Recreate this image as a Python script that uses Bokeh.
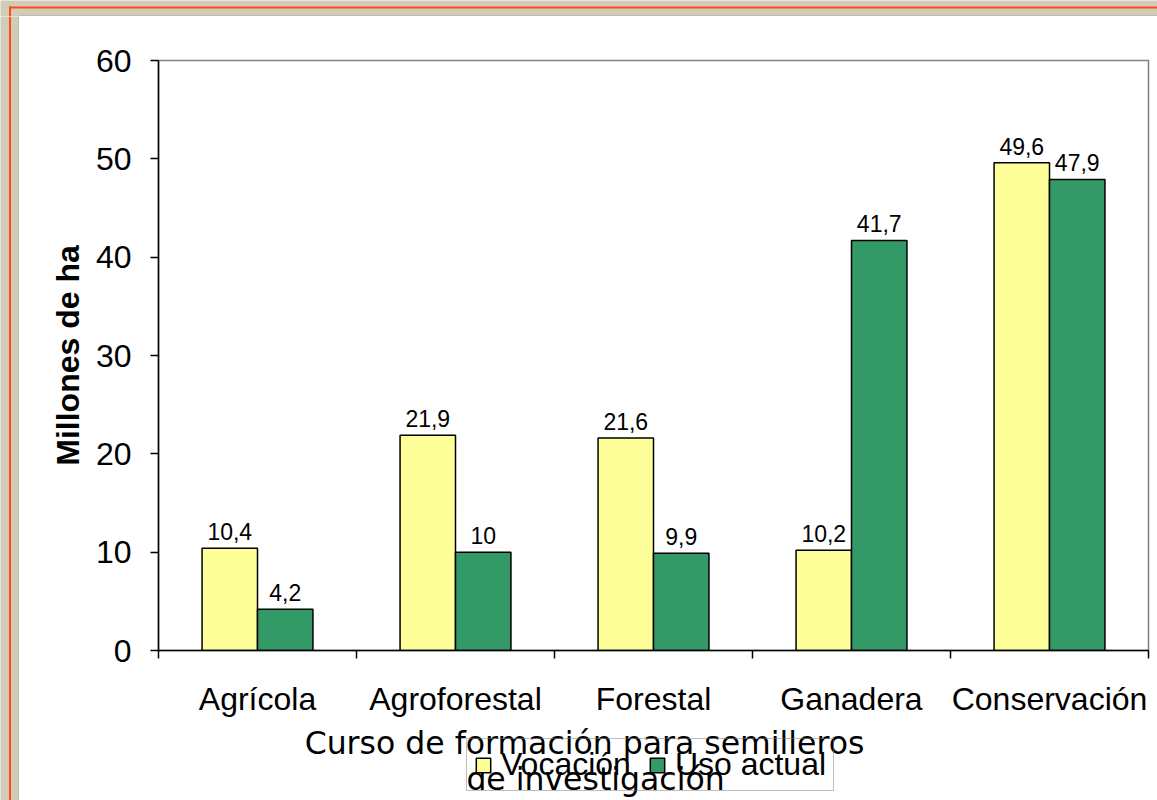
from bokeh.plotting import figure
from bokeh.layouts import column, row
from bokeh.models import (Range1d, LinearAxis, FixedTicker, Legend, LegendItem,
                          Label, ColumnDataSource)
from bokeh.transform import dodge
from bokeh.core.properties import value
from bokeh.embed import file_html
from bokeh.resources import INLINE

# Land use in Colombia (millions of hectares): suitability vs. current use
categories = ["Agrícola", "Agroforestal", "Forestal", "Ganadera", "Conservación"]
vocacion = [10.4, 21.9, 21.6, 10.2, 49.6]
uso_actual = [4.2, 10.0, 9.9, 41.7, 47.9]
series_names = ["Vocación", "Uso actual"]
y_ticks = [0, 10, 20, 30, 40, 50, 60]
y_title = "Millones de ha"
x_title_lines = ["Curso de formación para semilleros", "de investigación"]

YELLOW = "#FFFF99"
GREEN = "#339966"
TAN = "#D0CCB8"
EDGE = "#ABA791"
RED = "#FF4A1C"
ARIAL = "Liberation Sans"

W, H = 1157, 800
MARGIN_L, MARGIN_T = 19, 16
CHART_H, FOOT_H = 709, 75
BORDER_L, BORDER_R = 139, 9


def fmt(v):
    return f"{v:g}".replace(".", ",")


def blank(width, height, xr, yr, bg, **borders):
    f = figure(width=width, height=height, x_range=xr, y_range=yr,
               x_axis_location=None, y_axis_location=None,
               output_backend="svg", toolbar_location=None, min_border=0, **borders)
    f.background_fill_color = bg
    f.border_fill_color = bg
    f.outline_line_color = None
    f.grid.visible = False
    return f


# slide margin: tan strip with a red rule (pixel ranges, y growing downwards)
top_strip = blank(W, MARGIN_T, Range1d(0, W), Range1d(MARGIN_T, 0), TAN)
top_strip.quad(left=[8.5, 8.5, 18], right=[W, 10.5, W], top=[6, 6, 15],
               bottom=[8, MARGIN_T, MARGIN_T], fill_color=[RED, RED, EDGE], line_color=None)
left_strip = blank(MARGIN_L, H - MARGIN_T, Range1d(0, MARGIN_L), Range1d(H - MARGIN_T, 0), TAN)
left_strip.quad(left=[8.5, 18], right=[10.5, MARGIN_L], top=[0, 0],
                bottom=[H - MARGIN_T, H - MARGIN_T], fill_color=[RED, EDGE], line_color=None)

# ---- main bar chart ----
n = len(categories)
centers = [i + 0.5 for i in range(n)]      # one slot per category
bounds = list(range(n + 1))                # slot boundaries carry the tick marks

src = ColumnDataSource(dict(
    pos=centers,
    voc=vocacion,
    uso=uso_actual,
    voc_lbl=[fmt(v) for v in vocacion],
    uso_lbl=[fmt(v) for v in uso_actual],
))

p = figure(
    width=W - MARGIN_L, height=CHART_H,
    x_range=Range1d(0, n), y_range=Range1d(0, 60),
    x_axis_location=None,
    output_backend="svg", toolbar_location=None,
    min_border_left=BORDER_L, min_border_right=BORDER_R, min_border_top=44, min_border_bottom=75,
)
p.border_fill_color = "white"
p.background_fill_color = "white"
p.outline_line_color = "#808080"
p.outline_line_width = 1.5
p.grid.visible = False

bw = 0.28
bar_style = dict(width=bw, line_color="black", line_width=1.5)
p.vbar(x=dodge("pos", -0.14), top="voc", source=src, fill_color=YELLOW, **bar_style)
p.vbar(x=dodge("pos", 0.14), top="uso", source=src, fill_color=GREEN, **bar_style)

for xo, col in [(-0.14, "voc"), (0.14, "uso")]:
    p.text(x=dodge("pos", xo), y=col, text=col + "_lbl", source=src,
           text_align="center", text_baseline="bottom", y_offset=-8,
           text_font=value(ARIAL), text_font_size="23px", text_color="black")

yax = p.yaxis[0]
yax.ticker = FixedTicker(ticks=y_ticks, minor_ticks=[])
yax.axis_line_color = "black"
yax.axis_line_width = 1.5
yax.major_tick_in = 0
yax.major_tick_out = 8
yax.major_tick_line_color = "black"
yax.major_tick_line_width = 1.5
yax.minor_tick_line_color = None
yax.major_label_text_font = ARIAL
yax.major_label_text_font_size = "32px"
yax.major_label_text_color = "black"
yax.major_label_standoff = 19
yax.axis_label = y_title
yax.axis_label_text_font = ARIAL
yax.axis_label_text_font_size = "32px"
yax.axis_label_text_font_style = "bold"
yax.axis_label_text_color = "black"
yax.axis_label_standoff = 7

# x axis: category names centred in slots, tick marks between slots
xax = LinearAxis(ticker=FixedTicker(ticks=centers, minor_ticks=bounds),
                 major_label_overrides={c: name for c, name in zip(centers, categories)})
xax.axis_line_color = "black"
xax.axis_line_width = 1.5
xax.major_tick_in = 0
xax.major_tick_out = 0
xax.minor_tick_in = 0
xax.minor_tick_out = 8
xax.minor_tick_line_color = "black"
xax.minor_tick_line_width = 1.5
xax.major_label_text_font = ARIAL
xax.major_label_text_font_size = "32px"
xax.major_label_text_color = "black"
xax.major_label_standoff = 22
p.add_layout(xax, "below")

# ---- footer: axis title and legend (positions in px from the frame's lower left) ----
foot = blank(W - MARGIN_L, FOOT_H, Range1d(0, n), Range1d(0, 60), "white",
             min_border_left=BORDER_L, min_border_right=BORDER_R)
# hidden copies of the bar series supply the legend swatches
k_voc = foot.vbar(x="pos", top="voc", source=src, fill_color=YELLOW, visible=False, **bar_style)
k_uso = foot.vbar(x="pos", top="uso", source=src, fill_color=GREEN, visible=False, **bar_style)
legend = Legend(
    items=[LegendItem(label=series_names[0], renderers=[k_voc]),
           LegendItem(label=series_names[1], renderers=[k_uso])],
    orientation="horizontal", location=(308, 9),
    border_line_color="#808080", border_line_width=1.5,
    background_fill_alpha=0, inactive_fill_alpha=0,
    label_text_font=ARIAL, label_text_font_size="32px", label_text_color="black",
    glyph_width=18, glyph_height=18, label_standoff=9, spacing=17,
    padding=7, margin=0,
)
foot.add_layout(legend, "center")

title_pos = [(426, 58), (437, 22)]
for (lx, ly), line in zip(title_pos, x_title_lines):
    foot.add_layout(Label(x=lx, y=ly, x_units="screen", y_units="screen", text=line,
                          text_align="center", text_baseline="alphabetic",
                          text_font="DejaVu Sans", text_font_size="31.5px",
                          text_color="black"))

page = column(top_strip, row(left_strip, column(p, foot, spacing=0), spacing=0), spacing=0)

open("out.html", "w").write(file_html(page, INLINE))
